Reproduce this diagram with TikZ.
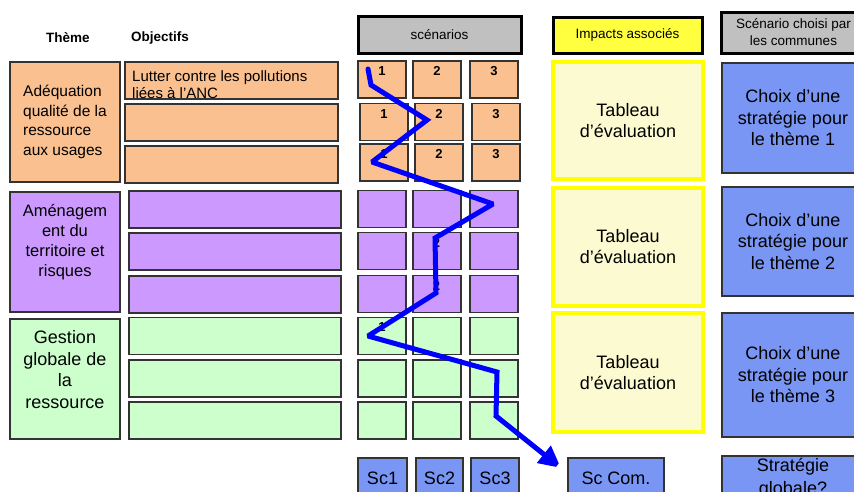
\documentclass[tikz,border=0pt]{standalone}
\usepackage{fontspec}
\setmainfont{Liberation Sans}
\usetikzlibrary{arrows.meta}
\definecolor{orfill}{HTML}{FAC08F}
\definecolor{pufill}{HTML}{CC99FF}
\definecolor{grfill}{HTML}{CCFFCC}
\definecolor{blfill}{HTML}{7A96F5}
\definecolor{gyfill}{HTML}{C0C0C0}
\definecolor{yefill}{HTML}{FFFF40}
\definecolor{tbfill}{HTML}{FCFAD0}
\definecolor{tbdraw}{HTML}{FFFF00}
\definecolor{bord}{HTML}{333333}
\definecolor{arrowc}{HTML}{0000FF}
\newcommand\fsz[2]{\fontsize{#1}{#2}\selectfont}
\begin{document}
\begin{tikzpicture}[x=1pt,y=-1pt,
  box/.style={draw=bord, line width=1.5pt, inner sep=0pt, outer sep=0pt},
  hdr/.style={draw=black, line width=3pt, inner sep=0pt, align=center, font=\fsz{13.5}{17}},
  tab/.style={draw=tbdraw, fill=tbfill, line width=4pt, inner sep=0pt, minimum width=150pt, align=center, font=\fsz{18}{21}},
  choix/.style={box, fill=blfill, minimum width=142pt, align=center, font=\fsz{18}{21.5}},
  cellbox/.style={box, minimum width=48pt, minimum height=37pt},
  dig/.style={font=\bfseries\fsz{13}{13}, inner sep=0pt},
  objbox/.style={box, minimum height=37pt},
  thbox/.style={box, minimum width=110pt, minimum height=120pt},
  bot/.style={box, fill=blfill, minimum height=40pt, font=\fsz{18}{23}, align=center},
  colhead/.style={font=\bfseries\fsz{13.5}{16}, inner sep=0pt},
  zigzag/.style={arrowc, line width=5pt, line join=miter, miter limit=2, line cap=round, -{Triangle[length=22pt,width=21pt]}}
]
\useasboundingbox (0,0) rectangle (854,491);
\clip (0,0) rectangle (854,491);

% column headers
\node[colhead] (tTheme) at (68,38) {Thème};
\node[colhead] (tObj) at (160,38) {Objectifs};
\node[hdr, fill=gyfill, minimum width=163pt, minimum height=37pt] (hScen) at (439.5,34.5) {scénarios};
\node[hdr, fill=yefill, minimum width=149pt, minimum height=36pt] (hImp) at (627.5,35) {Impacts associés};
\node[hdr, fill=gyfill, minimum width=145pt, minimum height=41pt] (hChoix) at (793.5,32.5) {Scénario choisi par\\les communes};

% themes
\node[thbox, fill=orfill, align=left, font=\fsz{15.5}{19.7}] (th1) at (65,122) {Adéquation\\qualité de la\\ressource\\aux usages};
\node[thbox, fill=pufill] (th2) at (65,252) {};
\node[align=center, inner sep=0pt, font=\fsz{16.5}{20}] (th2t) at (65,242) {Aménagem\\ent du\\territoire et\\risques};
\node[thbox, fill=grfill] (th3) at (65,379) {};
\node[align=center, inner sep=0pt, font=\fsz{18}{21.7}] (th3t) at (65,369.5) {Gestion\\globale de\\la\\ressource};

% objectives
\node[objbox, fill=orfill, minimum width=213pt] (o11) at (231.5,80.5) {};
\node[objbox, fill=orfill, minimum width=213pt] (o12) at (231.5,122.5) {};
\node[objbox, fill=orfill, minimum width=213pt] (o13) at (231.5,164.5) {};
\node[objbox, fill=pufill, minimum width=212pt] (o21) at (235,209.5) {};
\node[objbox, fill=pufill, minimum width=212pt] (o22) at (235,251.5) {};
\node[objbox, fill=pufill, minimum width=212pt] (o23) at (235,294.5) {};
\node[objbox, fill=grfill, minimum width=212pt] (o31) at (235,336) {};
\node[objbox, fill=grfill, minimum width=212pt] (o32) at (235,378.5) {};
\node[objbox, fill=grfill, minimum width=212pt] (o33) at (235,420.5) {};
\node[anchor=north west, align=left, inner sep=0pt, font=\fsz{15}{17.5}] (o11t) at (132,70) {Lutter contre les pollutions\\liées à l’ANC};

% scenario cells
\foreach \r/\y/\c/\dx in {1/79.5/orfill/0, 2/122/orfill/2, 3/162.5/orfill/2, 4/209/pufill/0, 5/251/pufill/0, 6/294/pufill/0, 7/336/grfill/0, 8/378.5/grfill/0, 9/420.5/grfill/0}
  \foreach \col/\x in {1/382, 2/437, 3/494}
    \node[cellbox, fill=\c] (c\r\col) at (\x+\dx,\y) {};
\foreach \r in {1,2,3}
  \foreach \col in {1,2,3}
    \node[dig, anchor=north] (d\r\col) at ([yshift=-5.5pt]c\r\col.north) {\col};
\node[dig, anchor=north] (d52) at ([xshift=-0.5pt,yshift=-6pt]c52.north) {2};
\node[dig, anchor=north] (d62) at ([xshift=-0.5pt,yshift=-6pt]c62.north) {2};
\node[dig, anchor=north] (d71) at ([yshift=-5pt]c71.north) {1};

% impacts
\node[tab, minimum height=117pt] (tb1) at (628,120.5) {Tableau\\d’évaluation};
\node[tab, minimum height=118pt] (tb2) at (628,247) {Tableau\\d’évaluation};
\node[tab, minimum height=119pt] (tb3) at (628,372.5) {Tableau\\d’évaluation};

% choices
\node[choix, minimum height=110pt] (ch1) at (793,118) {Choix d’une\\stratégie pour\\le thème 1};
\node[choix, minimum height=109pt] (ch2) at (793,241.5) {Choix d’une\\stratégie pour\\le thème 2};
\node[choix, minimum height=124pt] (ch3) at (793,375) {Choix d’une\\stratégie pour\\le thème 3};

% bottom row
\node[bot, minimum width=49pt] (sc1) at (382.5,478) {Sc1};
\node[bot, minimum width=47pt] (sc2) at (439.5,478) {Sc2};
\node[bot, minimum width=48pt] (sc3) at (495,478) {Sc3};
\node[bot, minimum width=96pt] (scc) at (616,478) {Sc Com.};
\node[bot, minimum width=142pt, minimum height=44pt] (sg) at (793,478) {Stratégie\\globale?};

% zigzag arrow
\coordinate (z0) at (368,69);
\coordinate (z1) at (371,85);
\coordinate (z2) at (427,120);
\coordinate (z3) at (372,162);
\coordinate (z4) at (493,204);
\coordinate (z5) at (435,238);
\coordinate (z6) at (436,293);
\coordinate (z7) at (368,336);
\coordinate (z8) at (497,372);
\coordinate (z9) at (496,416);
\coordinate (z10) at (561,468);
\draw[zigzag] (z0) -- (z1) -- (z2) -- (z3) -- (z4) -- (z5) -- (z6) -- (z7) -- (z8) -- (z9) -- (z10);
\end{tikzpicture}
\end{document}
